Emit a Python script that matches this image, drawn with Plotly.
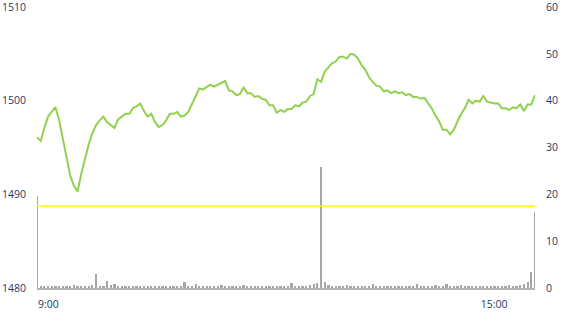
import plotly.graph_objects as go

# minutes after 9:00, one sample every 3 minutes
minutes = list(range(0, 406, 3))

price = [
    1496.1, 1495.7, 1497.1, 1498.3, 1498.8, 1499.3, 1497.9, 1495.8, 1493.7, 1492.0,
    1490.9, 1490.3, 1492.2, 1493.8, 1495.3, 1496.5, 1497.4, 1497.9, 1498.3, 1497.7,
    1497.4, 1497.1, 1498.0, 1498.3, 1498.6, 1498.6, 1499.2, 1499.4, 1499.7, 1498.9,
    1498.3, 1498.6, 1497.7, 1497.2, 1497.4, 1497.9, 1498.6, 1498.6, 1498.8, 1498.3,
    1498.4, 1498.8, 1499.7, 1500.5, 1501.3, 1501.2, 1501.5, 1501.7, 1501.5, 1501.7,
    1501.9, 1502.1, 1501.1, 1501.0, 1500.6, 1500.7, 1501.4, 1500.8, 1500.8, 1500.4,
    1500.5, 1500.2, 1500.1, 1499.5, 1499.5, 1498.7, 1499.0, 1498.8, 1499.1, 1499.1,
    1499.5, 1499.4, 1499.8, 1499.9, 1500.5, 1500.7, 1502.3, 1502.0, 1503.1, 1503.5,
    1504.0, 1504.2, 1504.7, 1504.7, 1504.5, 1505.0, 1504.9, 1504.5, 1503.8, 1503.3,
    1502.5, 1502.0, 1501.6, 1501.5, 1501.0, 1501.1, 1500.8, 1501.0, 1500.8, 1500.9,
    1500.6, 1500.7, 1500.4, 1500.4, 1500.2, 1500.3, 1499.8, 1499.2, 1498.4, 1497.8,
    1496.9, 1496.9, 1496.4, 1496.9, 1497.8, 1498.6, 1499.2, 1500.1, 1499.7, 1500.0,
    1499.9, 1500.5, 1499.9, 1499.8, 1499.7, 1499.7, 1499.2, 1499.2, 1499.0, 1499.3,
    1499.2, 1499.6, 1498.9, 1499.6, 1499.6, 1500.6,
]

volume = [
    19.6, 0.4, 0.5, 0.3, 0.4, 0.3, 0.5, 0.4, 0.3, 0.4,
    0.6, 0.4, 0.3, 0.5, 0.4, 0.6, 3.0, 0.3, 0.5, 1.5,
    0.6, 0.8, 0.5, 0.4, 0.3, 0.4, 0.3, 0.5, 0.4, 0.3,
    0.4, 0.3, 0.5, 0.3, 0.4, 0.3, 0.4, 0.3, 0.5, 0.4,
    1.3, 0.4, 0.5, 0.8, 0.3, 0.4, 0.3, 0.4, 0.5, 0.3,
    0.6, 0.4, 0.3, 0.5, 0.4, 0.3, 0.6, 0.3, 0.4, 0.3,
    0.5, 0.3, 0.4, 0.3, 0.4, 0.3, 0.5, 0.3, 0.4, 1.1,
    0.4, 0.3, 0.5, 0.4, 0.6, 0.8, 1.1, 25.8, 1.3, 0.6,
    0.4, 0.5, 0.3, 0.4, 0.6, 0.3, 0.4, 0.5, 0.3, 0.4,
    0.3, 0.8, 0.4, 0.3, 0.4, 0.3, 0.5, 0.3, 0.4, 0.3,
    0.4, 0.3, 0.4, 0.8, 0.4, 0.3, 0.5, 0.4, 0.6, 0.4,
    0.5, 0.8, 0.4, 0.5, 0.4, 0.6, 0.3, 0.4, 0.3, 0.4,
    0.3, 0.4, 0.3, 0.5, 0.4, 0.3, 0.5, 0.4, 0.6, 0.5,
    0.4, 0.6, 0.8, 1.3, 3.4, 16.2,
]

avg_level = 17.5  # yellow reference line on the volume axis

price_ticks = [1480, 1490, 1500, 1510]
volume_ticks = [0, 10, 20, 30, 40, 50, 60]
time_tickvals = [0, 360]
time_ticktext = ["9:00", "15:00"]

assert len(minutes) == len(price) == len(volume)

font_color = "#1f3864"
font = dict(family="Open Sans, Segoe UI, sans-serif", size=10.5, color=font_color)

fig = go.Figure()
fig.add_trace(go.Bar(
    x=minutes, y=volume, yaxis="y2", width=1.8,
    marker=dict(color="#a6a6a6", line=dict(width=0)),
    showlegend=False, hoverinfo="skip",
))
fig.add_trace(go.Scatter(
    x=[minutes[0], minutes[-1]], y=[avg_level, avg_level], yaxis="y2",
    mode="lines", line=dict(color="#ffff00", width=1.6),
    showlegend=False, hoverinfo="skip",
))
fig.add_trace(go.Scatter(
    x=minutes, y=price, mode="lines",
    line=dict(color="#92d050", width=2),
    showlegend=False,
))

fig.update_layout(
    width=570, height=330,
    margin=dict(l=37, r=35, t=7, b=42),
    paper_bgcolor="white", plot_bgcolor="white",
    font=font,
    bargap=0,
    xaxis=dict(
        range=[0, 405], tickvals=time_tickvals, ticktext=time_ticktext,
        showgrid=False, zeroline=False, automargin=False,
        showline=True, linecolor="#b4b4b4", linewidth=2,
        ticks="", ticklabelstandoff=5,
        ticklabelposition="outside right", ticklabeloverflow="allow",
        tickfont=font,
    ),
    yaxis=dict(
        range=[1480, 1510], tickvals=price_ticks, automargin=False,
        showgrid=False, zeroline=False, showline=False,
        ticks="outside", ticklen=8, tickcolor="rgba(0,0,0,0)",
        ticklabeloverflow="allow", tickfont=font,
    ),
    yaxis2=dict(
        range=[0, 60], tickvals=volume_ticks, overlaying="y", side="right",
        automargin=False,
        showgrid=False, zeroline=False, showline=False,
        ticks="outside", ticklen=8, tickcolor="rgba(0,0,0,0)",
        ticklabeloverflow="allow", tickfont=font,
    ),
)

fig.write_html("out.html")
